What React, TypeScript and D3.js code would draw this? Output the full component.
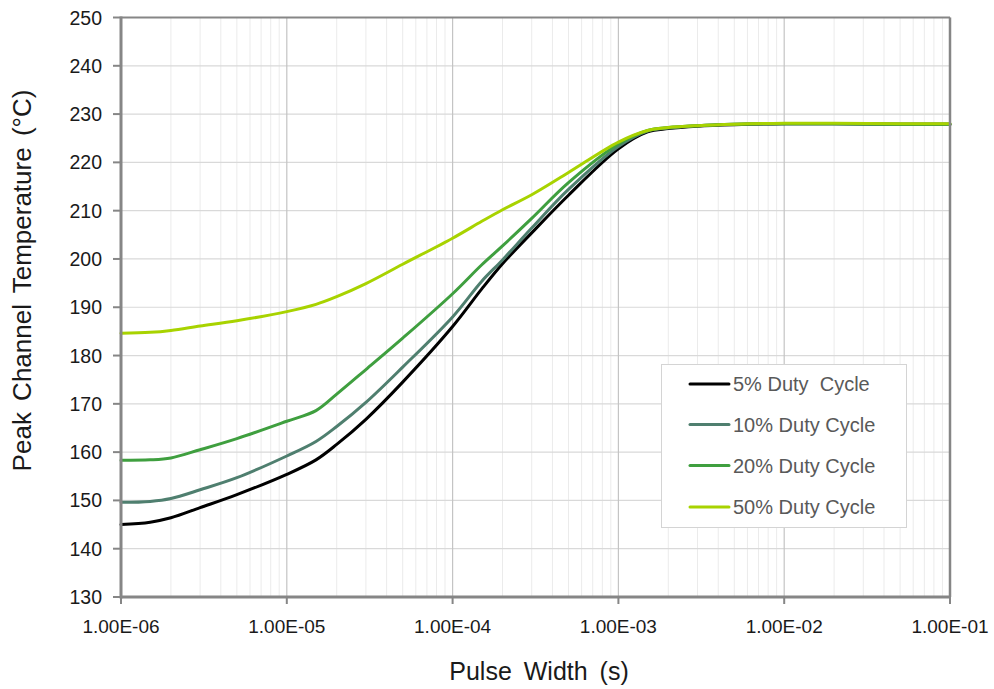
import React from "react";
import * as d3 from "d3";

// Pulse width in seconds (log axis)
const pulseWidths = [
  1e-6, 1.5e-6, 2e-6, 3e-6, 5e-6, 1e-5, 1.5e-5, 2e-5, 3e-5, 5e-5, 1e-4, 1.5e-4,
  2e-4, 3e-4, 5e-4, 1e-3, 1.5e-3, 2e-3, 3e-3, 5e-3, 1e-2, 2e-2, 5e-2, 1e-1,
];

// Peak channel temperature (°C) for each duty cycle
const duty5 = [
  145.0, 145.5, 146.4, 148.5, 151.2, 155.4, 158.4, 161.6, 166.8, 174.5, 186.0, 193.8,
  199.0, 205.4, 213.2, 222.8, 226.3, 227.0, 227.5, 227.8, 228.0, 228.0, 227.9, 227.9,
];
const duty10 = [
  149.6, 149.8, 150.4, 152.2, 154.7, 159.2, 162.2, 165.3, 170.3, 177.6, 188.0, 195.4,
  199.8, 206.4, 214.4, 223.3, 226.5, 227.1, 227.6, 227.9, 228.0, 228.0, 227.9, 227.9,
];
const duty20 = [
  158.3, 158.4, 158.8, 160.5, 162.8, 166.4, 168.6, 172.0, 177.1, 183.6, 192.8, 198.8,
  202.7, 208.4, 215.8, 223.8, 226.6, 227.2, 227.6, 227.9, 228.0, 228.0, 227.9, 227.9,
];
const duty50 = [
  184.6, 184.8, 185.2, 186.1, 187.2, 189.1, 190.6, 192.2, 194.9, 198.9, 204.3, 207.8,
  210.2, 213.3, 217.9, 224.2, 226.6, 227.2, 227.6, 227.9, 228.1, 228.1, 228.0, 228.0,
];

const seriesNames = ["5% Duty  Cycle", "10% Duty Cycle", "20% Duty Cycle", "50% Duty Cycle"];
const seriesColors = ["#000000", "#4f7f6f", "#3f9f3f", "#a8d300"];
const seriesValues = [duty5, duty10, duty20, duty50];

const xDecades = [1e-6, 1e-5, 1e-4, 1e-3, 1e-2, 1e-1];
const xTickLabels = ["1.00E-06", "1.00E-05", "1.00E-04", "1.00E-03", "1.00E-02", "1.00E-01"];
const yTicks = [130, 140, 150, 160, 170, 180, 190, 200, 210, 220, 230, 240, 250];

const W = 994;
const H = 689;
const left = 121;
const right = 950;
const top = 17.5;
const bottom = 597;

export default function App() {
  const x = d3.scaleLog().domain([1e-6, 1e-1]).range([left, right]);
  const y = d3.scaleLinear().domain([130, 250]).range([bottom, top]);

  const minorTicks: number[] = [];
  for (let i = 0; i < xDecades.length - 1; i++) {
    for (let m = 2; m <= 9; m++) minorTicks.push(xDecades[i] * m);
  }

  const line = d3
    .line<[number, number]>()
    .x((d) => x(d[0]))
    .y((d) => y(d[1]))
    .curve(d3.curveCatmullRom.alpha(0.5));

  const font = "'Liberation Sans', Arial, sans-serif";

  const legendX = 661.5;
  const legendY = 364.5;
  const legendW = 245;
  const legendH = 163;
  const rowY = [384, 424.5, 465.5, 507];

  return (
    <svg
      width={W}
      height={H}
      style={{ position: "absolute", left: 0, top: 0, display: "block", background: "#fff" }}
      fontFamily={font}
    >
      {/* minor vertical gridlines */}
      {minorTicks.map((t, i) => (
        <line key={"mn" + i} x1={x(t)} x2={x(t)} y1={top} y2={bottom} stroke="#ebebeb" strokeWidth={1} />
      ))}
      {/* horizontal gridlines */}
      {yTicks.map((v) => (
        <line key={"hg" + v} x1={left} x2={right} y1={y(v)} y2={y(v)} stroke="#d9d9d9" strokeWidth={1.2} />
      ))}
      {/* major vertical gridlines */}
      {xDecades.map((t, i) => (
        <line key={"mj" + i} x1={x(t)} x2={x(t)} y1={top} y2={bottom} stroke="#c4c4c4" strokeWidth={1.2} />
      ))}

      {/* data series */}
      {seriesValues.map((vals, si) => (
        <path
          key={"s" + si}
          d={line(pulseWidths.map((p, i) => [p, vals[i]] as [number, number])) || ""}
          fill="none"
          stroke={seriesColors[si]}
          strokeWidth={3}
          strokeLinejoin="round"
          strokeLinecap="round"
        />
      ))}

      {/* frame */}
      <line x1={left} x2={right} y1={top} y2={top} stroke="#868686" strokeWidth={2} />
      <line x1={right} x2={right} y1={top} y2={bottom} stroke="#868686" strokeWidth={2.5} />
      <line x1={left} x2={right + 1} y1={bottom} y2={bottom} stroke="#868686" strokeWidth={3} />
      <line x1={left} x2={left} y1={top - 1} y2={bottom + 1.5} stroke="#868686" strokeWidth={3} />

      {/* y ticks and labels */}
      {yTicks.map((v) => (
        <g key={"yt" + v}>
          <line x1={left - 8} x2={left} y1={y(v)} y2={y(v)} stroke="#868686" strokeWidth={2} />
          <text x={102} y={y(v)} dy="0.36em" textAnchor="end" fontSize={19.5} fill="#1a1a1a">
            {v}
          </text>
        </g>
      ))}

      {/* x ticks and labels */}
      {xDecades.map((t, i) => (
        <g key={"xt" + i}>
          <line x1={x(t)} x2={x(t)} y1={bottom} y2={bottom + 7} stroke="#868686" strokeWidth={2} />
          <text x={x(t)} y={633} textAnchor="middle" fontSize={19} fill="#1a1a1a">
            {xTickLabels[i]}
          </text>
        </g>
      ))}

      {/* axis titles */}
      <text
        x={539}
        y={680}
        textAnchor="middle"
        fontSize={25}
        fill="#1a1a1a"
        style={{ wordSpacing: "5px" }}
      >
        Pulse Width (s)
      </text>
      <text
        transform={`translate(31, ${280.5}) rotate(-90)`}
        textAnchor="middle"
        fontSize={26}
        fill="#1a1a1a"
        style={{ wordSpacing: "4px" }}
      >
        Peak Channel Temperature (°C)
      </text>

      {/* legend */}
      <rect x={legendX} y={legendY} width={legendW} height={legendH} fill="#ffffff" stroke="#d4d4d4" strokeWidth={1} />
      {seriesNames.map((name, i) => (
        <g key={"lg" + i}>
          <line x1={690} x2={729} y1={rowY[i]} y2={rowY[i]} stroke={seriesColors[i]} strokeWidth={3} strokeLinecap="round" />
          <text x={733} y={rowY[i]} dy="0.36em" fontSize={20} fill="#595959" style={{ whiteSpace: "pre" }}>
            {name}
          </text>
        </g>
      ))}
    </svg>
  );
}
